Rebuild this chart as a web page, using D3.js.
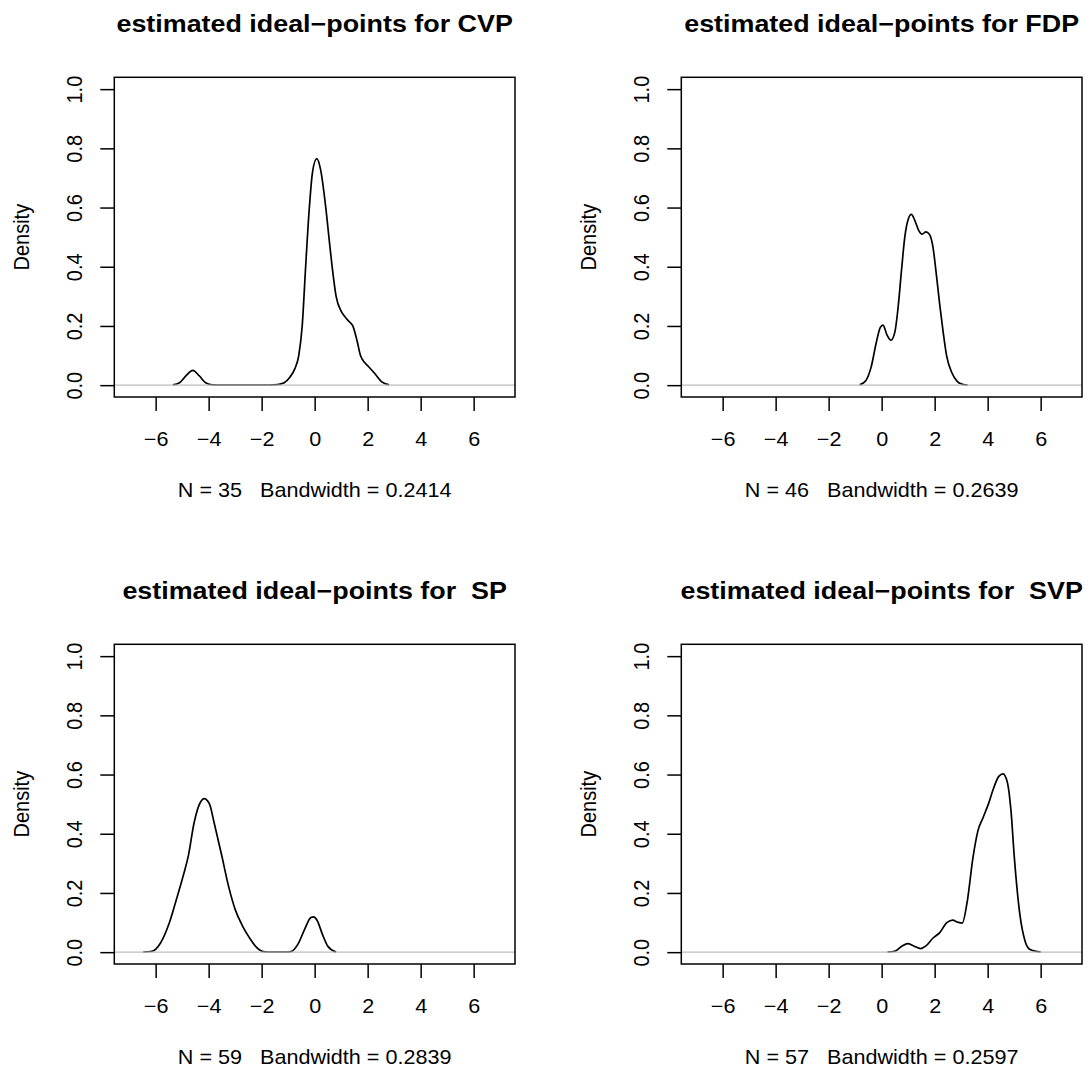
<!DOCTYPE html>
<html>
<head>
<meta charset="utf-8">
<script src="https://cdn.jsdelivr.net/npm/d3@7"></script>
<style>
  html, body { margin: 0; padding: 0; background: #ffffff; }
  svg { display: block; }
  text { font-family: "Liberation Sans", Arial, Helvetica, sans-serif; fill: #000; white-space: pre; }
</style>
</head>
<body>
<div id="chart"></div>
<script>
// ---------------- data ----------------
const parties = ["CVP", "FDP", "SP", "SVP"];
const titles = [
  "estimated ideal\u2212points for CVP",
  "estimated ideal\u2212points for FDP",
  "estimated ideal\u2212points for  SP",
  "estimated ideal\u2212points for  SVP"
];
const nObs = [35, 46, 59, 57];
const bandwidths = ["0.2414", "0.2639", "0.2839", "0.2597"];

const xTicks = [-6, -4, -2, 0, 2, 4, 6];
const yTicks = [0, 0.2, 0.4, 0.6, 0.8, 1.0];
const yTickLabels = ["0.0", "0.2", "0.4", "0.6", "0.8", "1.0"];

const cvpX = [-5.35, -5.1, -4.85, -4.6, -4.35, -4.1, -3.85, -3.5, -2.0, -1.4, -1.15, -0.95, -0.75, -0.6, -0.47, -0.34, -0.2, -0.08, 0.08, 0.22, 0.42, 0.55, 0.66, 0.81, 1.0, 1.15, 1.3, 1.44, 1.6, 1.73, 1.88, 2.03, 2.26, 2.52, 2.81];
const cvpY = [0.001, 0.008, 0.032, 0.050, 0.031, 0.007, 0.001, 0, 0, 0.002, 0.008, 0.025, 0.055, 0.10, 0.2, 0.4, 0.6, 0.72, 0.765, 0.73, 0.6, 0.49, 0.4, 0.3, 0.25, 0.23, 0.215, 0.2, 0.15, 0.1, 0.077, 0.063, 0.04, 0.012, 0.001];

const fdpX = [-0.83, -0.6, -0.4, -0.2, -0.05, 0.05, 0.2, 0.35, 0.5, 0.62, 0.75, 0.88, 1.0, 1.12, 1.25, 1.4, 1.53, 1.67, 1.8, 1.93, 2.06, 2.19, 2.32, 2.45, 2.65, 2.85, 3.05, 3.24];
const fdpY = [0.001, 0.015, 0.06, 0.145, 0.195, 0.203, 0.17, 0.152, 0.18, 0.262, 0.389, 0.505, 0.56, 0.577, 0.557, 0.522, 0.51, 0.518, 0.51, 0.47, 0.377, 0.273, 0.18, 0.10, 0.042, 0.013, 0.003, 0];

const spX = [-6.47, -6.14, -5.81, -5.48, -5.22, -4.96, -4.76, -4.56, -4.37, -4.17, -3.97, -3.78, -3.51, -3.25, -2.99, -2.73, -2.47, -2.20, -1.94, -1.6, -1.1, -0.89, -0.63, -0.37, -0.14, -0.04, 0.09, 0.29, 0.49, 0.81];
const spY = [0, 0.003, 0.032, 0.10, 0.177, 0.258, 0.328, 0.432, 0.495, 0.519, 0.501, 0.432, 0.328, 0.223, 0.142, 0.09, 0.05, 0.017, 0.002, 0, 0, 0.002, 0.027, 0.079, 0.117, 0.119, 0.108, 0.061, 0.021, 0];

const svpX = [0.22, 0.49, 0.75, 0.98, 1.21, 1.47, 1.67, 1.93, 2.20, 2.46, 2.69, 2.85, 3.04, 3.24, 3.44, 3.63, 3.83, 4.03, 4.22, 4.42, 4.58, 4.75, 4.88, 5.01, 5.21, 5.41, 5.60, 6.00];
const svpY = [0, 0.003, 0.019, 0.029, 0.021, 0.012, 0.021, 0.047, 0.067, 0.10, 0.108, 0.102, 0.098, 0.177, 0.316, 0.409, 0.455, 0.501, 0.553, 0.594, 0.602, 0.571, 0.478, 0.316, 0.131, 0.038, 0.009, 0];

const seriesX = [cvpX, fdpX, spX, svpX];
const seriesY = [cvpY, fdpY, spY, svpY];

// ---------------- layout ----------------
const W = 1088, H = 1074;
const PANEL = 567;
const BOX = { left: 114.3, right: 515, top: 77.3, bottom: 397 };
const XDOM = [-7.56, 7.56];
const YDOM = [-0.04, 1.04];
const FONT = 20, TITLE_FONT = 24, SX = 1.08, TSX = 1.12;
const minus = d => (d < 0 ? "\u2212" + Math.abs(d) : String(d));

const svg = d3.select("#chart").append("svg")
  .attr("width", W).attr("height", H)
  .attr("viewBox", `0 0 ${W} ${H}`);
svg.append("rect").attr("width", W).attr("height", H).attr("fill", "#fff");

parties.forEach((p, i) => {
  const ox = (i % 2) * PANEL, oy = Math.floor(i / 2) * PANEL;
  const L = ox + BOX.left, R = ox + BOX.right, T = oy + BOX.top, B = oy + BOX.bottom;
  const cx = (L + R) / 2, cy = (T + B) / 2;

  const x = d3.scaleLinear().domain(XDOM).range([L, R]);
  const y = d3.scaleLinear().domain(YDOM).range([B, T]);

  const g = svg.append("g").attr("class", "panel-" + p);

  const clipId = "clip-" + p;
  g.append("clipPath").attr("id", clipId)
    .append("rect").attr("x", L).attr("y", T).attr("width", R - L).attr("height", B - T);

  // density curve
  const pts = seriesX[i].map((xv, k) => [xv, seriesY[i][k]]);
  const line = d3.line().x(d => x(d[0])).y(d => y(d[1])).curve(d3.curveMonotoneX);
  g.append("path").datum(pts)
    .attr("clip-path", `url(#${clipId})`)
    .attr("d", line)
    .attr("fill", "none").attr("stroke", "#000").attr("stroke-width", 1.7)
    .attr("stroke-linejoin", "round");

  // zero line
  g.append("line")
    .attr("x1", L).attr("x2", R).attr("y1", y(0)).attr("y2", y(0))
    .attr("stroke", "#bebebe").attr("stroke-width", 1.2);

  // box
  g.append("rect").attr("x", L).attr("y", T).attr("width", R - L).attr("height", B - T)
    .attr("fill", "none").attr("stroke", "#000").attr("stroke-width", 1.5);

  // x axis
  const xa = g.append("g").attr("transform", `translate(0,${B})`)
    .call(d3.axisBottom(x).tickValues(xTicks).tickSize(14).tickFormat(minus));
  xa.select(".domain").remove();
  xa.selectAll(".tick line").attr("stroke", "#000").attr("stroke-width", 1.5);
  xa.selectAll(".tick text")
    .attr("y", 49).attr("dy", null)
    .attr("transform", `scale(${SX},1)`)
    .attr("font-size", FONT).attr("font-family", null).attr("fill", "#000");

  // y axis
  const ya = g.append("g").attr("transform", `translate(${L},0)`)
    .call(d3.axisLeft(y).tickValues(yTicks).tickSize(14).tickFormat((d, k) => yTickLabels[k]));
  ya.select(".domain").remove();
  ya.selectAll(".tick line").attr("stroke", "#000").attr("stroke-width", 1.5);
  ya.selectAll(".tick text")
    .attr("x", 0).attr("y", 0).attr("dy", null)
    .attr("text-anchor", "middle")
    .attr("transform", `translate(-32.3,0) scale(${SX},1) rotate(-90)`)
    .attr("font-size", FONT).attr("font-family", null).attr("fill", "#000");

  // y label
  g.append("text")
    .attr("transform", `translate(${ox + 29},${cy}) scale(${SX},1) rotate(-90)`)
    .attr("text-anchor", "middle").attr("font-size", FONT)
    .text("Density");

  // title
  g.append("text")
    .attr("transform", `translate(${cx},${oy + 32}) scale(${TSX},1)`)
    .attr("text-anchor", "middle").attr("font-size", TITLE_FONT).attr("font-weight", "bold")
    .text(titles[i]);

  // sub label
  g.append("text")
    .attr("transform", `translate(${cx},${oy + 497}) scale(${SX},1)`)
    .attr("text-anchor", "middle").attr("font-size", FONT)
    .text(`N = ${nObs[i]}   Bandwidth = ${bandwidths[i]}`);
});
</script>
</body>
</html>
